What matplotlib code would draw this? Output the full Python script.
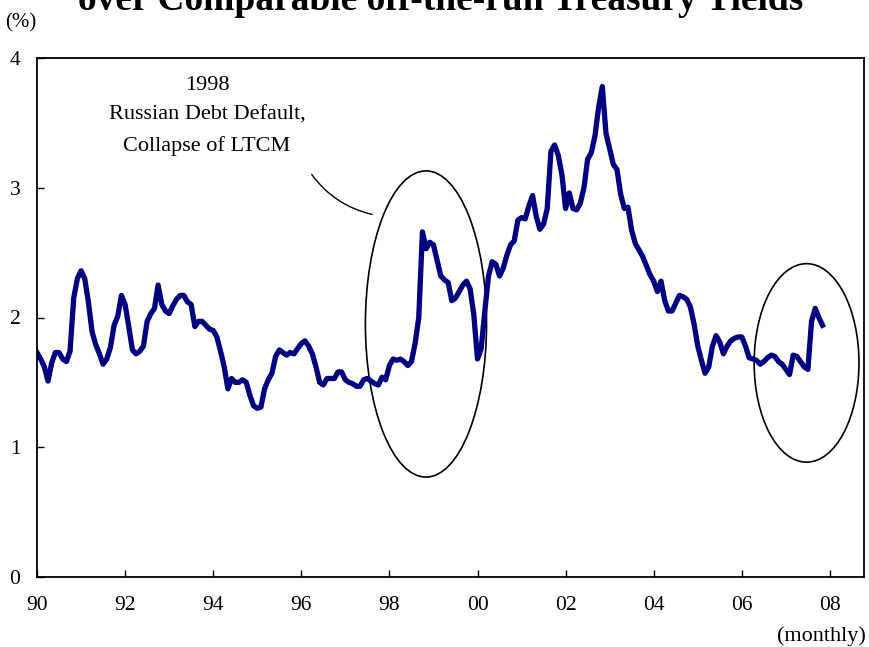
import numpy as np
import matplotlib.pyplot as plt
from matplotlib.patches import Ellipse

plt.rcParams['font.family'] = ['Liberation Serif', 'DejaVu Serif']

# monthly spread (%), Jan 1990 - Nov 2007
y1990 = [1.73, 1.68, 1.62, 1.51, 1.65, 1.73, 1.73, 1.68, 1.66, 1.74, 2.15, 2.30]
y1991 = [2.36, 2.30, 2.12, 1.89, 1.79, 1.72, 1.64, 1.68, 1.77, 1.94, 2.01, 2.17]
y1992 = [2.10, 1.93, 1.75, 1.72, 1.74, 1.78, 1.97, 2.03, 2.07, 2.25, 2.10, 2.05]
y1993 = [2.03, 2.09, 2.14, 2.17, 2.17, 2.12, 2.10, 1.93, 1.97, 1.97, 1.94, 1.91]
y1994 = [1.90, 1.85, 1.74, 1.62, 1.45, 1.53, 1.50, 1.50, 1.52, 1.50, 1.40, 1.32]
y1995 = [1.30, 1.31, 1.45, 1.52, 1.57, 1.70, 1.75, 1.73, 1.71, 1.73, 1.72, 1.76]
y1996 = [1.80, 1.82, 1.78, 1.72, 1.62, 1.50, 1.48, 1.53, 1.53, 1.53, 1.58, 1.58]
y1997 = [1.52, 1.50, 1.49, 1.47, 1.47, 1.52, 1.53, 1.51, 1.49, 1.48, 1.54, 1.52]
y1998 = [1.63, 1.68, 1.67, 1.68, 1.66, 1.63, 1.66, 1.80, 2.00, 2.66, 2.53, 2.58]
y1999 = [2.56, 2.44, 2.32, 2.29, 2.27, 2.13, 2.15, 2.20, 2.25, 2.28, 2.22, 2.02]
y2000 = [1.68, 1.76, 2.05, 2.32, 2.43, 2.41, 2.32, 2.38, 2.48, 2.56, 2.59, 2.75]
y2001 = [2.77, 2.76, 2.86, 2.94, 2.78, 2.68, 2.72, 2.84, 3.28, 3.33, 3.25, 3.10]
y2002 = [2.84, 2.96, 2.84, 2.83, 2.88, 3.00, 3.22, 3.27, 3.40, 3.62, 3.78, 3.42]
y2003 = [3.30, 3.18, 3.14, 2.95, 2.84, 2.85, 2.67, 2.57, 2.52, 2.47, 2.40, 2.33]
y2004 = [2.28, 2.20, 2.28, 2.13, 2.05, 2.05, 2.11, 2.17, 2.16, 2.14, 2.08, 1.95]
y2005 = [1.78, 1.67, 1.57, 1.62, 1.78, 1.86, 1.81, 1.72, 1.78, 1.82, 1.84, 1.85]
y2006 = [1.85, 1.78, 1.69, 1.68, 1.67, 1.64, 1.66, 1.69, 1.71, 1.70, 1.66, 1.64]
y2007 = [1.60, 1.56, 1.71, 1.70, 1.66, 1.62, 1.60, 1.97, 2.07, 2.00, 1.94]

spread = np.array(y1990 + y1991 + y1992 + y1993 + y1994 + y1995 + y1996 + y1997 + y1998
                  + y1999 + y2000 + y2001 + y2002 + y2003 + y2004 + y2005 + y2006 + y2007)
t = 1990 + np.arange(len(spread)) / 12

xticks = np.arange(1990, 2009, 2)
xlabels = ['90', '92', '94', '96', '98', '00', '02', '04', '06', '08']

fig = plt.figure(figsize=(8.69, 6.47), dpi=100)
ax = fig.add_axes([37/869, 1 - 577/647, 827/869, 519/647])

ax.plot(t, spread, color='#000080', lw=3.8, solid_joinstyle='round')

ax.set_xlim(1990, 1990 + 827/44.05)
ax.set_ylim(0, 4)
ax.set_xticks(xticks)
ax.set_xticklabels(xlabels)
ax.set_yticks([0, 1, 2, 3, 4])
ax.tick_params(direction='in', length=5, width=1, labelsize=15.5)
ax.tick_params(axis='x', pad=14)
ax.tick_params(axis='y', pad=12)
for s in ax.spines.values():
    s.set_linewidth(1.3)

# highlight the two episodes
ax.add_patch(Ellipse((1998.83, 1.95), 2.75, 2.36, fill=False, ec='black', lw=1.2))
ax.add_patch(Ellipse((2007.47, 1.65), 2.38, 1.53, fill=False, ec='black', lw=1.2))

ax.text(1993.86, 3.86, '1998\nRussian Debt Default,\nCollapse of LTCM',
        ha='center', va='top', fontsize=16, linespacing=1.75)
ax.annotate('', xy=(1997.67, 2.79), xytext=(1996.2, 3.12),
            arrowprops=dict(arrowstyle='-', connectionstyle='arc3,rad=0.2', lw=1, color='black'))

fig.text(21/869, 1 - 23/647, '(%)', ha='center', va='center', fontsize=15)
fig.text(866/869, 1 - 636/647, '(monthly)', ha='right', va='center', fontsize=16)
fig.text(441/869, 1 - 10/647, 'over Comparable off-the-run Treasury Yields',
         ha='center', va='baseline', fontsize=27, fontweight='bold')

fig.savefig('out.png', dpi=100)
